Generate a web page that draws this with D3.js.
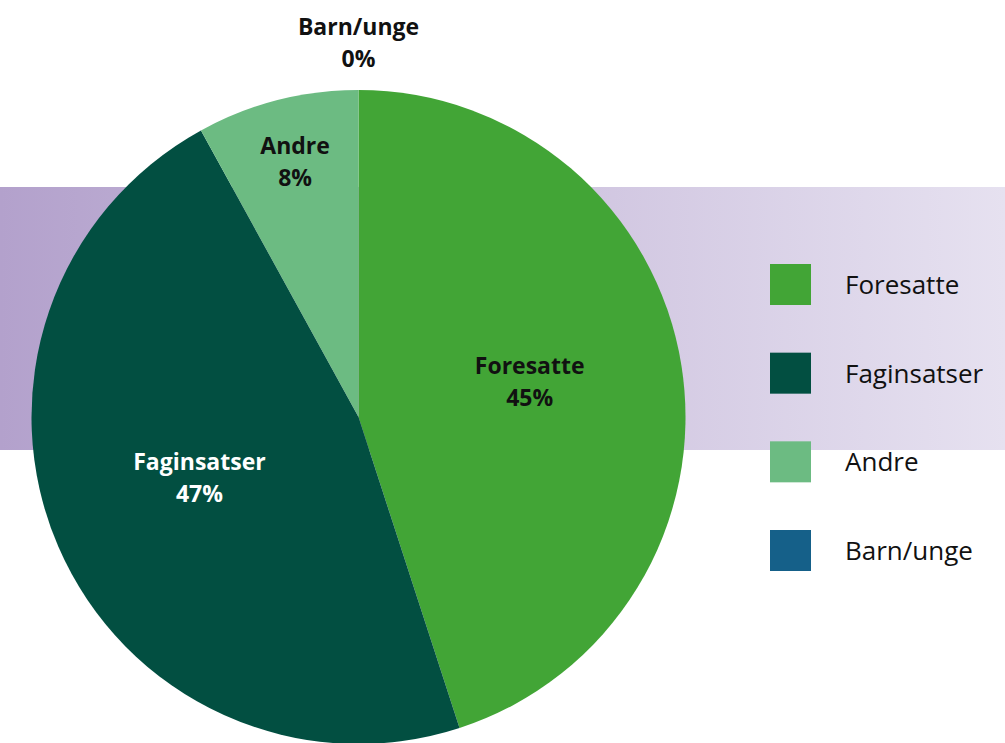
<!DOCTYPE html>
<html lang="no">
<head>
<meta charset="UTF-8" />
<title>index</title>
<script src="https://cdn.jsdelivr.net/npm/d3@7"></script>
<style>
  body { margin: 0; background: #fff; }
  svg { display: block; }
  text { font-family: "Open Sans", sans-serif; }
</style>
</head>
<body>
<div id="chart"></div>
<script>
// data
const categories = ["Foresatte", "Faginsatser", "Andre", "Barn/unge"];
const values = [45, 47, 8, 0];
const colors = ["#42a536", "#024f41", "#6cbb82", "#156089"];

const W = 1005, H = 743;
const cx = 358.5, cy = 417, r = 327;

const svg = d3.select("#chart").append("svg")
  .attr("width", W).attr("height", H);

// purple band behind
const grad = svg.append("defs").append("linearGradient")
  .attr("id", "band").attr("x1", "0%").attr("x2", "100%");
grad.append("stop").attr("offset", "0%").attr("stop-color", "#b3a1cc");
grad.append("stop").attr("offset", "100%").attr("stop-color", "#e6e1f0");
svg.append("rect")
  .attr("x", 0).attr("y", 187).attr("width", W).attr("height", 263)
  .attr("fill", "url(#band)");

const data = categories.map((c, i) => ({ name: c, value: values[i], color: colors[i] }));

const pie = d3.pie().sort(null).value(d => d.value);
const arcs = pie(data);
const arc = d3.arc().innerRadius(0).outerRadius(r);

const g = svg.append("g").attr("transform", `translate(${cx},${cy})`);

g.selectAll("path")
  .data(arcs.filter(d => d.data.value > 0))
  .join("path")
  .attr("d", arc)
  .attr("fill", d => d.data.color);

// label radius depends on slice size
function labelR(d) {
  if (d.data.value === 0) return r * 1.12;
  if (d.data.value < 15) return r * 0.78;
  return r * 0.53;
}

const labels = g.selectAll("g.lbl")
  .data(arcs)
  .join("g")
  .attr("class", "lbl")
  .attr("transform", d => {
    const a = (d.startAngle + d.endAngle) / 2;
    const lr = labelR(d);
    return `translate(${lr * Math.sin(a)},${-lr * Math.cos(a)})`;
  });

labels.append("text")
  .attr("text-anchor", "middle")
  .attr("font-weight", "bold")
  .attr("font-size", 23)
  .attr("fill", d => d.data.name === "Faginsatser" ? "#fff" : "#111")
  .selectAll("tspan")
  .data(d => [d.data.name, d.data.value + "%"])
  .join("tspan")
  .attr("x", 0)
  .attr("y", (t, i) => i * 32 - 16)
  .text(t => t);

// legend
const legY = d3.scalePoint().domain(categories).range([264, 530]);
const leg = svg.append("g").selectAll("g")
  .data(data)
  .join("g")
  .attr("transform", d => `translate(770,${legY(d.name)})`);
leg.append("rect")
  .attr("width", 41).attr("height", 41)
  .attr("fill", d => d.color);
leg.append("text")
  .attr("x", 75).attr("y", 30)
  .attr("font-size", 26)
  .attr("fill", "#111")
  .text(d => d.name);
</script>
</body>
</html>
